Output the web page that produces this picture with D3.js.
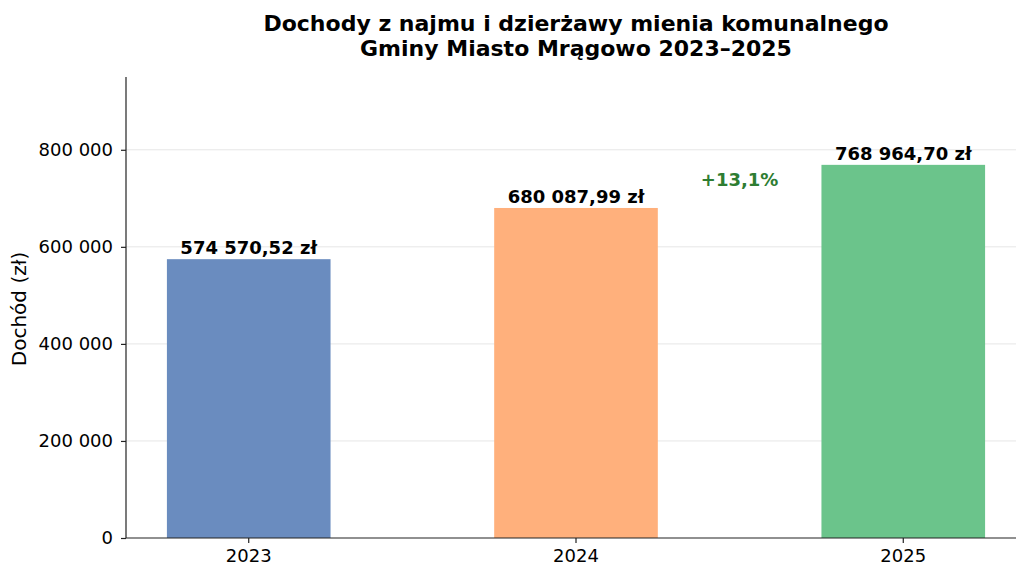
<!DOCTYPE html>
<html>
<head>
<meta charset="utf-8">
<script src="https://cdn.jsdelivr.net/npm/d3@7"></script>
<style>
  body { margin: 0; background: #fff; }
  text { font-family: "DejaVu Sans", sans-serif; }
</style>
</head>
<body>
<script>
// data
var years = ['2023', '2024', '2025'];
var values = [574570.52, 680087.99, 768964.70];
var colors = ['#6a8cbf', '#ffb07c', '#6bc48b'];
var yTicks = [0, 200000, 400000, 600000, 800000];
var titleLines = ['Dochody z najmu i dzierżawy mienia komunalnego', 'Gminy Miasto Mrągowo 2023–2025'];
var yMax = 950000;

var width = 1016, height = 568;
var plotLeft = 126, plotRight = 1026, plotTop = 77, plotBottom = 538;

var fmtInt = function (v) { return d3.format(',')(v).replace(/,/g, ' '); };
var fmtZl = function (v) {
    var s = d3.format(',.2f')(v);
    return s.replace(/,/g, ' ').replace('.', ',') + ' zł';
};

var svg = d3.select('body').append('svg')
    .attr('width', width)
    .attr('height', height);

var x = d3.scaleBand()
    .domain(years)
    .range([plotLeft, plotRight])
    .paddingInner(0.5)
    .paddingOuter(0.125);

var y = d3.scaleLinear()
    .domain([0, yMax])
    .range([plotBottom, plotTop]);

// grid
svg.append('g').selectAll('line')
    .data(yTicks.slice(1))
    .enter().append('line')
    .attr('x1', plotLeft).attr('x2', width)
    .attr('y1', function (d) { return y(d); })
    .attr('y2', function (d) { return y(d); })
    .attr('stroke', '#e6e6e6')
    .attr('stroke-width', 1);

// bars
svg.append('g').selectAll('rect')
    .data(values)
    .enter().append('rect')
    .attr('x', function (d, i) { return x(years[i]); })
    .attr('y', function (d) { return y(d); })
    .attr('width', x.bandwidth())
    .attr('height', function (d) { return plotBottom - y(d); })
    .attr('fill', function (d, i) { return colors[i]; });

// value labels
svg.append('g').selectAll('text')
    .data(values)
    .enter().append('text')
    .attr('x', function (d, i) { return x(years[i]) + x.bandwidth() / 2; })
    .attr('y', function (d) { return y(d) - 5; })
    .attr('text-anchor', 'middle')
    .attr('font-size', 18)
    .attr('font-weight', 'bold')
    .attr('fill', '#000')
    .text(function (d) { return fmtZl(d); });

// change label
var change = (values[2] / values[1] - 1) * 100;
svg.append('text')
    .attr('x', (x(years[1]) + x(years[2]) + x.bandwidth()) / 2)
    .attr('y', y((values[1] + values[2]) / 2))
    .attr('text-anchor', 'middle')
    .attr('font-size', 18)
    .attr('font-weight', 'bold')
    .attr('fill', '#2e7d32')
    .text('+' + d3.format('.1f')(change).replace('.', ',') + '%');

// axes
var yAxis = svg.append('g')
    .attr('transform', 'translate(' + plotLeft + ',0)')
    .call(d3.axisLeft(y).tickValues(yTicks).tickFormat(fmtInt).tickSize(5).tickPadding(8));
var xAxis = svg.append('g')
    .attr('transform', 'translate(0,' + plotBottom + ')')
    .call(d3.axisBottom(x).tickSize(5).tickPadding(6));

[yAxis, xAxis].forEach(function (g) {
    g.select('.domain').attr('stroke', '#222').attr('stroke-width', 1.2);
    g.selectAll('.tick line').attr('stroke', '#222').attr('stroke-width', 1.2);
    g.selectAll('.tick text')
        .attr('font-family', 'DejaVu Sans')
        .attr('font-size', 18)
        .attr('fill', '#000');
});
yAxis.select('.domain').attr('d', 'M0,' + plotTop + 'V' + plotBottom);
xAxis.select('.domain').attr('d', 'M' + plotLeft + ',0H' + width);

// y label
svg.append('text')
    .attr('transform', 'translate(26,309) rotate(-90)')
    .attr('text-anchor', 'middle')
    .attr('font-size', 20)
    .attr('fill', '#000')
    .text('Dochód (zł)');

// title
svg.append('g').selectAll('text')
    .data(titleLines)
    .enter().append('text')
    .attr('x', (plotLeft + plotRight) / 2)
    .attr('y', function (d, i) { return 31 + i * 25; })
    .attr('text-anchor', 'middle')
    .attr('font-size', 22)
    .attr('font-weight', 'bold')
    .attr('fill', '#000')
    .text(function (d) { return d; });
</script>
</body>
</html>
